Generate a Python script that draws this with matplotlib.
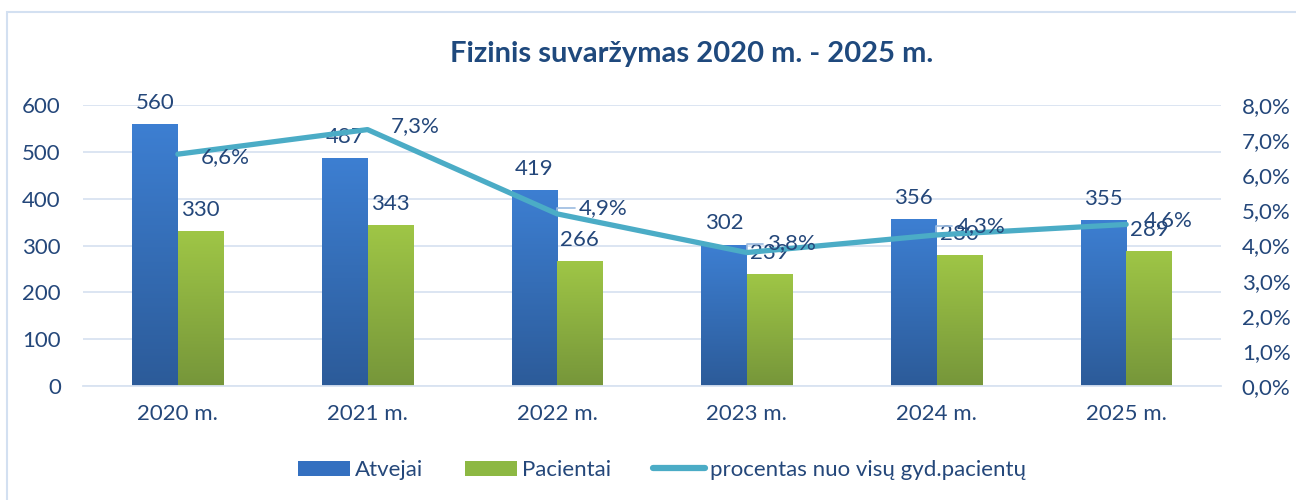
import matplotlib

matplotlib.use("Agg")

import matplotlib.pyplot as plt
import numpy as np
from matplotlib.colors import LinearSegmentedColormap
from matplotlib.lines import Line2D
from matplotlib.patches import Patch, Rectangle

plt.rcParams["font.family"] = ["Lato", "DejaVu Sans"]

years = ["2020 m.", "2021 m.", "2022 m.", "2023 m.", "2024 m.", "2025 m."]
atvejai = [560, 487, 419, 302, 356, 355]
pacientai = [330, 343, 266, 239, 280, 289]
procentas = [6.6, 7.3, 4.9, 3.8, 4.3, 4.6]
pct_labels = ["6,6%", "7,3%", "4,9%", "3,8%", "4,3%", "4,6%"]

TEXT = "#24477a"
GRID = "#d9e3f1"
LINE = "#4bacc6"
BAR_W = 0.24
FS = 16

blue_cmap = LinearSegmentedColormap.from_list("blue", ["#2c5b99", "#3d7fd2"])
green_cmap = LinearSegmentedColormap.from_list("green", ["#76963a", "#9fc646"])

fig = plt.figure(figsize=(12.96, 5.0), dpi=100)
# light frame around the chart
fig.patches.append(Rectangle((7 / 1296, -0.2), 1.2, 1.2 - 12 / 500,
                             transform=fig.transFigure, fill=False,
                             edgecolor="#d3e0f1", linewidth=1.5))

ax = fig.add_axes([83 / 1296, 1 - 386 / 500, (1221 - 83) / 1296, (386 - 105) / 500])
x = np.arange(len(years))


def gradient_bars(axis, xs, heights, cmap):
    bars = axis.bar(xs, heights, width=BAR_W, color="none", edgecolor="none", zorder=2)
    grad = np.linspace(0, 1, 256).reshape(-1, 1)
    for bar in bars:
        x0, w, h = bar.get_x(), bar.get_width(), bar.get_height()
        img = axis.imshow(grad, cmap=cmap, origin="lower", aspect="auto",
                          extent=(x0, x0 + w, 0, h), zorder=2)
        img.set_clip_path(bar)
    return bars


gradient_bars(ax, x - BAR_W / 2, atvejai, blue_cmap)
gradient_bars(ax, x + BAR_W / 2, pacientai, green_cmap)

for xi, v in zip(x, atvejai):
    ax.annotate(str(v), (xi - BAR_W / 2, v), xytext=(0, 8), textcoords="offset points",
                ha="center", va="bottom", fontsize=FS, color=TEXT, zorder=5)
for xi, v in zip(x, pacientai):
    ax.annotate(str(v), (xi + BAR_W / 2, v), xytext=(0, 8), textcoords="offset points",
                ha="center", va="bottom", fontsize=FS, color=TEXT, zorder=5)

ax.set_xlim(-0.5, len(years) - 0.5)
ax.set_ylim(0, 600)
ax.set_yticks(range(0, 601, 100))
ax.set_xticks(x)
ax.set_xticklabels(years)
ax.yaxis.grid(True, color=GRID, linewidth=1.3, zorder=0)
ax.set_axisbelow(True)
for side in ["top", "left", "right"]:
    ax.spines[side].set_visible(False)
ax.spines["bottom"].set_color(GRID)
ax.spines["bottom"].set_linewidth(1.3)
ax.tick_params(axis="both", length=0, labelsize=FS, labelcolor=TEXT)
ax.tick_params(axis="x", pad=13)
ax.tick_params(axis="y", pad=16)

ax2 = ax.twinx()
ax2.set_ylim(0, 8)
ax2.set_yticks(range(0, 9))
ax2.set_yticklabels([f"{t},0%" for t in range(0, 9)])
ax2.tick_params(axis="y", length=0, labelsize=FS, labelcolor=TEXT, pad=15)
for side in ["top", "left", "right", "bottom"]:
    ax2.spines[side].set_visible(False)

ax2.plot(x, procentas, color=LINE, linewidth=3.8, solid_capstyle="round",
         solid_joinstyle="round", zorder=4)

# label offsets in pixels (dx, dy) and whether a leader line is drawn
offsets = [(23, -3), (23, 3), (22, 6), (20, 9), (20, 9), (18, 4)]
leaders = [False, False, True, True, True, False]
for xi, v, lab, (dx, dy), lead in zip(x, procentas, pct_labels, offsets, leaders):
    ax2.annotate(lab, (xi, v), xytext=(dx, dy), textcoords="offset pixels",
                 ha="left", va="center", fontsize=FS, color=TEXT, zorder=6)
    if lead:
        ax2.annotate("", (xi, v), xytext=(dx - 4, dy), textcoords="offset pixels",
                     arrowprops=dict(arrowstyle="-", color="#9bbbe0", linewidth=1.2,
                                     connectionstyle="angle,angleA=0,angleB=90,rad=0",
                                     shrinkA=0, shrinkB=2))

fig.text(692 / 1296, 1 - 54 / 500, "Fizinis suvaržymas 2020 m. - 2025 m.", ha="center",
         va="center", fontsize=21, fontweight="bold", color="#1f497d")

handles = [
    Patch(facecolor="#3470c0", edgecolor="none", label="Atvejai"),
    Patch(facecolor="#8db843", edgecolor="none", label="Pacientai"),
    Line2D([0], [0], color=LINE, linewidth=4.5, solid_capstyle="round",
           label="procentas nuo visų gyd.pacientų"),
]
fig.legend(handles=handles, loc="center", bbox_to_anchor=(662 / 1296, 1 - 470 / 500), ncol=3,
           frameon=False, fontsize=FS, labelcolor=TEXT, handlelength=2.35,
           handleheight=0.65, handletextpad=0.25, columnspacing=1.85)

fig.savefig("out.png", dpi=100)
